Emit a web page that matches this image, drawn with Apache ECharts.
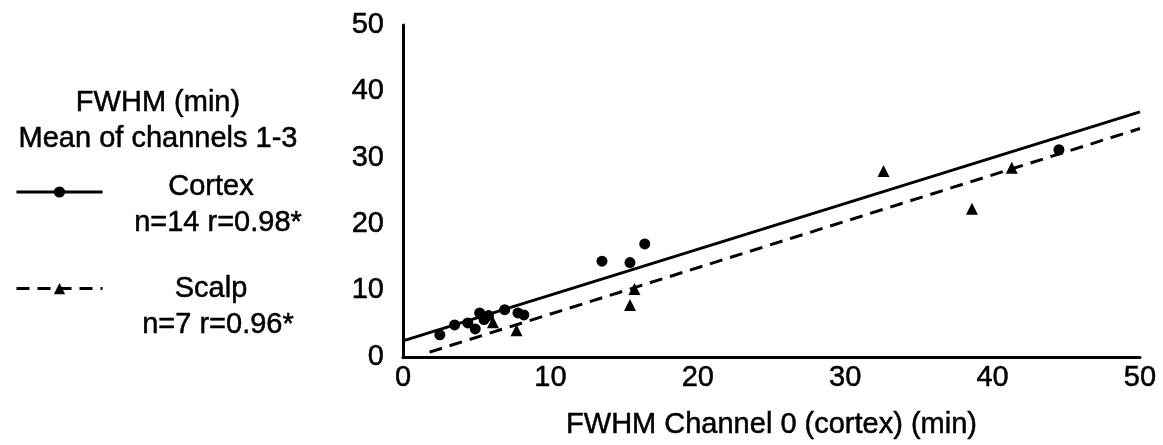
<!DOCTYPE html>
<html>
<head>
<meta charset="utf-8">
<script src="https://cdn.jsdelivr.net/npm/echarts@6/dist/echarts.min.js"></script>
<style>
html,body{margin:0;padding:0;background:#fff;}
#c{width:1163px;height:445px;}
</style>
</head>
<body>
<div id="c"></div>
<script>
// ---- data ----
const cortexX = [2.5, 3.5, 4.4, 4.9, 5.2, 5.5, 5.8, 6.9, 7.8, 8.2, 13.5, 15.4, 16.4, 44.5];
const cortexY = [3.3, 4.8, 5.1, 4.2, 6.6, 5.6, 6.2, 7.1, 6.6, 6.3, 14.4, 14.2, 17.0, 31.2];
const scalpX = [6.1, 7.7, 15.4, 15.7, 32.6, 38.6, 41.3];
const scalpY = [5.2, 4.0, 7.8, 10.2, 28.0, 22.3, 28.5];
const cortexFitX = [0, 50];
const cortexFitY = [2.4, 36.9];
const scalpFitX = [1.8, 50];
const scalpFitY = [0.7, 34.4];
const seriesNames = ['Cortex', 'Scalp'];
const seriesStats = ['n=14 r=0.98*', 'n=7 r=0.96*'];
const headerLines = ['FWHM (min)', 'Mean of channels 1-3'];
const xTitle = 'FWHM Channel 0 (cortex) (min)';

const zip = (xs, ys) => xs.map((x, i) => [x, ys[i]]);
const FONT = '"Liberation Sans", Arial, Helvetica, sans-serif';
const FS = 29;
const txt = (text, x, y) => ({
  type: 'text', x: x, y: y,
  style: {text: text, font: FS + 'px ' + FONT, fill: '#000', align: 'center', verticalAlign: 'middle',
          stroke: '#000', lineWidth: 0.5}
});

const chart = echarts.init(document.getElementById('c'), null, {renderer: 'canvas'});
chart.setOption({
  animation: false,
  backgroundColor: '#fff',
  textStyle: {fontFamily: FONT, color: '#000'},
  grid: {left: 403, right: 23, top: 25, bottom: 83, containLabel: false},
  xAxis: {
    type: 'value', min: 0, max: 50, interval: 10,
    name: xTitle, nameLocation: 'middle', nameGap: 54,
    nameTextStyle: {fontSize: FS, color: '#000', fontFamily: FONT, textBorderColor: '#000', textBorderWidth: 0.5},
    axisLine: {show: true, onZero: false, lineStyle: {color: '#000', width: 3}},
    axisTick: {show: false},
    splitLine: {show: false},
    axisLabel: {fontSize: FS, color: '#000', margin: 7, fontFamily: FONT, textBorderColor: '#000', textBorderWidth: 0.5}
  },
  yAxis: {
    type: 'value', min: 0, max: 50, interval: 10,
    axisLine: {show: true, onZero: false, lineStyle: {color: '#000', width: 3}},
    axisTick: {show: false},
    splitLine: {show: false},
    axisLabel: {fontSize: FS, color: '#000', margin: 19, fontFamily: FONT, textBorderColor: '#000', textBorderWidth: 0.5}
  },
  legend: {
    orient: 'vertical', left: 10, top: 180,
    itemWidth: 86, itemHeight: 14, itemGap: 84,
    data: seriesNames,
    formatter: () => '',
    lineStyle: {width: 3},
    textStyle: {fontSize: 8}
  },
  graphic: [
    txt(headerLines[0], 158, 103),
    txt(headerLines[1], 158, 139),
    txt(seriesNames[0], 211, 187),
    txt(seriesStats[0], 218, 223),
    txt(seriesNames[1], 211, 289),
    txt(seriesStats[1], 218, 325)
  ],
  series: [
    {
      name: 'Cortex', type: 'line', data: zip(cortexFitX, cortexFitY),
      symbol: 'circle', symbolSize: 10, showSymbol: false,
      itemStyle: {color: '#000'},
      lineStyle: {color: '#000', width: 3, type: 'solid'},
      z: 3
    },
    {
      name: 'Scalp', type: 'line', data: zip(scalpFitX, scalpFitY),
      symbol: 'triangle', symbolSize: 10, showSymbol: false,
      itemStyle: {color: '#000'},
      lineStyle: {color: '#000', width: 3, type: [13, 8]},
      z: 3
    },
    {
      name: 'Cortex points', type: 'scatter', data: zip(cortexX, cortexY),
      symbol: 'circle', symbolSize: 11, itemStyle: {color: '#000', opacity: 1}, z: 4
    },
    {
      name: 'Scalp points', type: 'scatter', data: zip(scalpX, scalpY),
      symbol: 'triangle', symbolSize: 12, itemStyle: {color: '#000', opacity: 1}, z: 4
    }
  ]
});
</script>
</body>
</html>
